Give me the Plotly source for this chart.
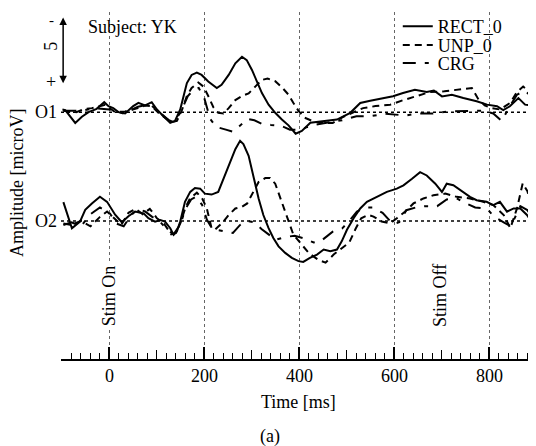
import plotly.graph_objects as go

# ---------------- data (microV, negative up), time in ms ----------------
t_o1_rect = [-99, -93, -72, -58, -44, -27, -11, -2, 8, 19,
             33, 50, 61, 75, 89, 100, 113, 128, 138, 149,
             156, 163, 173, 184, 194, 208, 226, 236, 251, 265,
             279, 289, 300, 310, 321, 335, 349, 363, 377, 392,
             405, 423, 450, 479, 507, 528, 549, 576, 597, 618,
             643, 668, 683, 700, 721, 745, 773, 795, 816, 829,
             843, 861, 875, 898]
v_o1_rect = [-0.2, -0.15, 0.8, 0.34, 0.0, -0.25, -0.74, -0.44, -0.3, 0.0,
             0.1, -0.45, -0.69, -0.5, -0.74, -0.2, 0.28, 0.79, 0.66, -0.2,
             -1.18, -2.16, -2.77, -2.94, -2.77, -2.28, -1.79, -2.03, -2.77, -3.63,
             -4.12, -3.87, -3.14, -2.28, -1.42, -0.56, 0.05, 0.54, 0.98, 1.6,
             1.4, 0.79, 0.65, 0.55, 0.05, -0.68, -0.85, -1.05, -1.19, -1.42,
             -1.66, -1.5, -1.61, -1.17, -1.3, -1.05, -0.81, -0.56, -0.44, -0.15,
             -0.44, -1.05, -0.56, -0.44]

t_o1_unp = [-97, -70, -51, -37, -9, 12, 33, 60, 75, 89,
            103, 117, 131, 142, 152, 163, 173, 187, 198, 208,
            219, 229, 240, 251, 265, 279, 293, 307, 321, 333,
            349, 363, 377, 387, 398, 410, 430, 450, 470, 492,
            513, 534, 560, 591, 619, 645, 675, 705, 731, 763,
            776, 790, 805, 822, 844, 858, 871, 890, 898]
v_o1_unp = [-0.1, 0.0, -0.25, -0.3, -0.55, 0.0, -0.05, -0.3, -0.5, -0.45,
            0.05, 0.4, 0.75, 0.65, -0.1, -1.2, -1.8, -2.2, -1.9, -1.2,
            -0.35, 0.05, 0.1, -0.3, -0.9, -1.2, -1.4, -1.9, -2.4, -2.5,
            -2.3, -1.85, -1.3, -0.7, -0.1, 0.4, 0.7, 0.8, 0.8, 0.35,
            0.0, -0.3, -0.45, -0.55, -0.9, -1.2, -1.5, -1.55, -1.65, -1.8,
            -1.0, -0.5, -0.3, -0.2, -0.7, -1.5, -1.9, -1.4, -1.3]

t_o1_crg = [-97, -60, -30, 0, 30, 60, 85, 105, 125, 135,
            150, 165, 178, 188, 200, 212, 225, 245, 260, 275,
            290, 305, 320, 340, 360, 380, 400, 430, 460, 490,
            520, 549, 580, 600, 625, 648, 680, 720, 740, 770,
            790, 808, 826, 842, 858, 875, 890, 898]
v_o1_crg = [-0.1, -0.1, -0.3, -0.2, 0.1, -0.4, -0.6, 0.0, 0.6, 0.75,
            0.0, -1.2, -1.7, -1.8, -1.0, 0.5, 1.1, 1.3, 1.45, 1.0,
            0.5, 0.6, 0.85, 0.95, 1.0, 1.3, 1.3, 0.95, 0.8, 0.6,
            0.3, 0.3, 0.12, 0.2, 0.25, 0.1, 0.1, -0.07, -0.1, -0.1,
            -0.1, 0.1, 0.66, -0.4, -1.3, -1.6, -1.1, -1.0]

t_o2_rect = [-97, -79, -62, -51, -37, -20, -5, 12, 26, 40,
             54, 72, 82, 96, 107, 117, 128, 135, 142, 149,
             159, 170, 180, 191, 201, 215, 229, 240, 251, 265,
             275, 282, 293, 303, 314, 324, 335, 345, 356, 370,
             384, 398, 408, 422, 437, 451, 465, 479, 489, 500,
             514, 528, 542, 563, 584, 605, 619, 637, 654, 668,
             686, 700, 710, 724, 738, 759, 773, 794, 808, 822,
             837, 851, 865, 879, 898]
v_o2_rect = [-1.4, 0.54, 0.05, -0.83, -1.3, -1.8, -1.42, -0.46, 0.1, -0.35,
             -0.7, -0.56, -0.2, 0.05, -0.07, 0.05, 0.54, 1.03, 0.78, 0.05,
             -1.42, -2.16, -2.45, -2.4, -2.03, -1.96, -2.16, -3.14, -4.12, -5.34,
             -5.96, -5.71, -4.85, -3.38, -1.67, -0.44, 0.54, 1.27, 1.89, 2.38,
             2.75, 2.99, 3.05, 2.75, 2.5, 2.13, 2.25, 2.13, 1.52, 0.66,
             -0.2, -0.93, -1.42, -1.79, -2.16, -2.4, -2.65, -3.14, -3.63, -3.38,
             -2.77, -2.16, -2.77, -2.65, -2.28, -1.79, -1.54, -1.42, -1.18, -1.42,
             -0.69, -0.93, -0.93, -0.44, 0.54]

t_o2_unp = [-97, -80, -60, -40, -20, -5, 10, 25, 40, 55,
            70, 85, 100, 115, 130, 140, 150, 160, 170, 184,
            195, 205, 215, 222, 240, 251, 265, 279, 290, 303,
            314, 328, 338, 349, 363, 377, 387, 401, 420, 440,
            455, 472, 490, 505, 518, 530, 545, 556, 573, 591,
            605, 622, 640, 661, 682, 707, 731, 759, 787, 808,
            830, 844, 858, 870, 880, 890, 898]
v_o2_unp = [0.2, 0.3, 0.0, 0.4, -0.3, -0.7, -0.2, 0.3, -0.6, -0.9,
            -0.5, -0.9, -0.2, 0.2, 1.0, 0.9, 0.1, -1.0, -1.7, -2.1,
            -1.7, -0.93, 0.54, 0.66, 0.05, -0.44, -0.93, -1.05, -1.3, -2.16,
            -2.9, -3.19, -3.19, -2.77, -1.42, 0.05, 1.0, 1.6, 2.4, 2.9,
            3.1, 2.5, 2.0, 1.6, 0.6, -0.2, -0.45, -0.32, 0.05, 0.17,
            -0.2, -0.69, -1.3, -1.67, -1.91, -2.03, -1.79, -1.67, -1.42, -1.18,
            -0.44, 0.54, -0.93, -2.8, -2.2, -0.9, -0.2]

t_o2_crg = [-97, -80, -60, -40, -20, 0, 15, 30, 45, 60,
            75, 90, 105, 120, 135, 150, 160, 172, 182, 195,
            205, 215, 230, 245, 260, 275, 290, 305, 320, 335,
            350, 370, 390, 409, 430, 445, 470, 490, 505, 521,
            540, 555, 575, 597, 610, 625, 645, 665, 690, 710,
            730, 745, 770, 795, 810, 830, 845, 865, 880, 898]
v_o2_crg = [0.3, 0.1, 0.4, -0.5, -1.0, -0.6, 0.2, 0.4, -0.4, -0.9,
            -0.7, -0.3, 0.0, 0.6, 1.0, 0.2, -0.9, -1.6, -1.8, -1.2,
            -0.1, 0.5, 0.7, 0.8, 0.9, 0.3, 0.0, 0.1, 0.6, 1.0,
            1.4, 1.2, 1.1, 1.3, 1.6, 1.5, 0.8, 0.55, 0.0, -0.7,
            -1.0, -1.0, -0.6, 0.25, 0.1, -0.8, -1.0, -1.1, -1.1, -1.6,
            -1.7, -1.4, -1.0, -0.9, -0.3, 0.1, 0.4, -1.1, -0.8, 0.1]

conditions = ["RECT_0", "UNP_0", "CRG"]
channels = ["O1", "O2"]
channel_offsets = [0.0, 8.09]          # vertical stacking offset (microV)
scale_bar_uv = 5
stim_labels = ["Stim On", "Stim Off"]
x_major_ticks = [0, 200, 400, 600, 800]

series = {
    ("O1", "RECT_0"): (t_o1_rect, v_o1_rect),
    ("O1", "UNP_0"): (t_o1_unp, v_o1_unp),
    ("O1", "CRG"): (t_o1_crg, v_o1_crg),
    ("O2", "RECT_0"): (t_o2_rect, v_o2_rect),
    ("O2", "UNP_0"): (t_o2_unp, v_o2_unp),
    ("O2", "CRG"): (t_o2_crg, v_o2_crg),
}

# ---------------- styling ----------------
FONT = "Liberation Serif"
TXT = dict(family=FONT, size=18, color="black")
dashes = {"RECT_0": "solid", "UNP_0": "7px,5px", "CRG": "13px,9px,4px,9px"}
legend_ids = {"RECT_0": "legend", "UNP_0": "legend2", "CRG": "legend3"}

fig = go.Figure()
for ch, off in zip(channels, channel_offsets):
    for cond in conditions:
        tt, vv = series[(ch, cond)]
        fig.add_trace(go.Scatter(
            x=tt, y=[v + off for v in vv], mode="lines",
            name=cond, legend=legend_ids[cond],
            showlegend=(ch == "O1"),
            line=dict(color="black", width=2, dash=dashes[cond]),
            hoverinfo="skip",
        ))

# empty trace to activate the secondary (100 ms) tick axis
fig.add_trace(go.Scatter(x=[], y=[], xaxis="x2", showlegend=False, hoverinfo="skip"))

XR = [-102, 898]
YR = [18.36, -7.45]   # reversed: negative up

# channel baselines
for ch, off in zip(channels, channel_offsets):
    fig.add_shape(type="line", xref="paper", x0=0, x1=1, yref="y", y0=off, y1=off,
                  line=dict(color="black", width=1.5, dash="dot"), layer="below")
    fig.add_annotation(text=ch, xref="paper", x=-0.004, xanchor="right",
                       yref="y", y=off, yanchor="middle", showarrow=False, font=TXT)

# scale bar (5 microV, negative up)
bar_bottom = -2.15
fig.add_annotation(x=-97.5, y=bar_bottom, ax=-97.5, ay=bar_bottom - scale_bar_uv,
                   xref="x", yref="y", axref="x", ayref="y", text="",
                   showarrow=True, arrowhead=2, arrowside="end+start",
                   arrowsize=1, arrowwidth=1.5, arrowcolor="black")
for txt, yy, ang, fs in [("-", 0.976, 0, 15), ("5", 0.900, -90, 18), ("+", 0.798, 0, 18)]:
    fig.add_annotation(text=txt, xref="paper", x=-0.021, xanchor="center",
                       yref="paper", y=yy, yanchor="middle",
                       showarrow=False, textangle=ang,
                       font=dict(family=FONT, size=fs, color="black"))

fig.add_annotation(text="Subject: YK", xref="paper", x=0.052, xanchor="left",
                   yref="paper", y=0.957, yanchor="middle", showarrow=False, font=TXT)
fig.add_annotation(text="Amplitude [microV]", xref="paper", x=-0.0926, xanchor="center",
                   yref="paper", y=0.507, yanchor="middle", textangle=-90,
                   showarrow=False, font=TXT)
for txt, xx in zip(stim_labels, [0.1, 0.798]):
    fig.add_annotation(text=txt, xref="paper", x=xx, xanchor="center",
                       yref="paper", y=0.182, yanchor="middle",
                       textangle=-90, showarrow=False, font=TXT,
                       bgcolor="white", borderpad=2)
fig.add_annotation(text="Time [ms]", xref="paper", x=0.5, xanchor="center",
                   yref="paper", y=-0.1225, yanchor="middle", showarrow=False, font=TXT)
fig.add_annotation(text="(a)", xref="paper", x=0.44, xanchor="center",
                   yref="paper", y=-0.222, yanchor="middle", showarrow=False, font=TXT)

legend_common = dict(xanchor="left", yanchor="middle", x=0.709,
                     bgcolor="rgba(0,0,0,0)", borderwidth=0, font=TXT)

# page body has an 8px margin, so the figure is 8px smaller than the window
fig.update_layout(
    width=528, height=438,
    margin=dict(l=53, r=0, t=0, b=87),
    paper_bgcolor="white", plot_bgcolor="white",
    font=TXT,
    hovermode=False,
    legend=dict(y=0.958, **legend_common),
    legend2=dict(y=0.904, **legend_common),
    legend3=dict(y=0.852, **legend_common),
    xaxis=dict(range=XR, tickmode="array", tickvals=x_major_ticks,
               ticks="inside", ticklen=12, tickwidth=1.5, tickcolor="black",
               showline=True, linecolor="black", linewidth=1.5,
               showgrid=True, gridcolor="#666666", gridwidth=1, griddash="dot",
               zeroline=False, tickfont=TXT, automargin=False,
               minor=dict(dtick=20, tick0=0, ticks="inside", ticklen=6,
                          tickwidth=1.2, tickcolor="black", showgrid=False)),
    xaxis2=dict(range=XR, overlaying="x", anchor="y", side="bottom",
                dtick=100, tick0=0, ticks="inside", ticklen=9, tickwidth=1.3,
                tickcolor="black", showticklabels=False, showgrid=False,
                showline=False, zeroline=False),
    yaxis=dict(range=YR, visible=False, showgrid=False, zeroline=False),
)

fig.write_html("out.html")
